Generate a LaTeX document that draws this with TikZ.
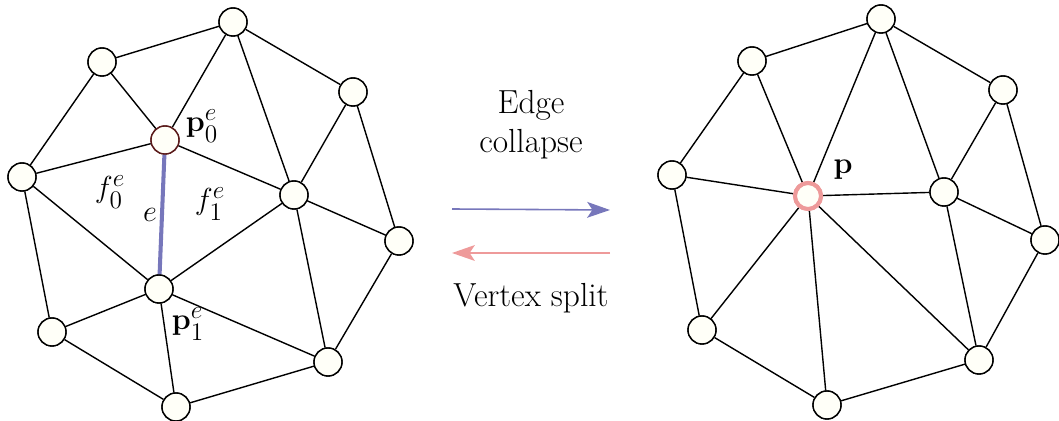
\documentclass[tikz,border=0pt]{standalone}
\usepackage{amsmath}
\usepackage{xcolor}
\usetikzlibrary{arrows.meta}
\definecolor{COLL}{HTML}{7777BB}
\definecolor{SPLT}{HTML}{EE9A9A}
\definecolor{VFILL}{HTML}{FFFFF8}
\definecolor{PZERO}{HTML}{5A1A1A}

\begin{document}
\begin{tikzpicture}[
  x=0.02cm, y=-0.02cm,
  vx/.style={circle, draw=black, line width=0.8pt, fill=VFILL, minimum size=0.56cm, inner sep=0pt},
  edge/.style={black, line width=0.8pt},
  lbl/.style={font=\fontsize{19}{22}\selectfont},
  mlbl/.style={font=\fontsize{19}{22}\selectfont, inner sep=0pt},
]
\useasboundingbox (0,0) rectangle (1059,421);

% ===== LEFT: before collapse =====
\foreach \n/\x/\y in {la/233/22, lb/102/62, lc/353/92, le/22/177, lf/294/195,
                      lg/399/241, li/52/332, lj/328/362, lk/176/407} {
  \node[vx] (\n) at (\x,\y) {};
}
\node[vx, draw=PZERO] (p0) at (165,140) {};
\node[vx] (p1) at (159,289) {};
\foreach \u/\v in {lb/la, la/lc, lb/le, lb/p0, la/p0, la/lf, lc/lf, lc/lg,
                   le/p0, p0/lf, le/p1, le/li, lf/lg, lf/p1, lf/lj, lg/lj,
                   p1/li, p1/lk, p1/lj, li/lk, lk/lj} {
  \draw[edge] (\u) -- (\v);
}
\draw[COLL, line width=2.3pt] (p0) -- (p1);
\foreach \n in {la,lb,lc,le,lf,lg,li,lj,lk,p1} { \node[vx] at (\n) {}; }
\node[vx, draw=PZERO] at (p0) {};

\node[mlbl] (tp0) at (202,126) {$\mathbf{p}_0^e$};
\node[mlbl] (tp1) at (188,324) {$\mathbf{p}_1^e$};
\node[mlbl] (tf0) at (110,192) {$f_0^e$};
\node[mlbl] (tf1) at (210,204) {$f_1^e$};
\node[mlbl] (te)  at (150,215) {$e$};

% ===== MIDDLE: operations =====
\node[lbl, align=center] (tcol) at (531,125) {Edge\\collapse};
\node[lbl] (tspl) at (531,298) {Vertex split};
\coordinate (c0) at (452,209);
\coordinate (c1) at (610,210);
\coordinate (s0) at (610,253);
\coordinate (s1) at (452,253);
\draw[-{Stealth[length=13pt, width=9pt, inset=3pt]}, COLL, line width=0.9pt] (c0) -- (c1);
\draw[-{Stealth[length=13pt, width=9pt, inset=3pt]}, SPLT, line width=0.9pt] (s0) -- (s1);

% ===== RIGHT: after collapse =====
\foreach \n/\x/\y in {ra/881/19, rb/752/61, rc/1003/90, re/672/175, rf/944/192,
                      rg/1045/240, ri/702/330, rj/979/360, rk/827/405} {
  \node[vx] (\n) at (\x,\y) {};
}
\node[vx, draw=SPLT, line width=2.3pt, minimum size=0.52cm] (p) at (808,196) {};
\foreach \u/\v in {rb/ra, ra/rc, rb/re, rb/p, ra/p, ra/rf, rc/rf, rc/rg,
                   re/p, p/rf, rf/rg, re/ri, p/ri, p/rk, p/rj, rf/rj,
                   rg/rj, ri/rk, rk/rj} {
  \draw[edge] (\u) -- (\v);
}
\foreach \n in {ra,rb,rc,re,rf,rg,ri,rj,rk} { \node[vx] at (\n) {}; }
\node[vx, draw=SPLT, line width=2.3pt, minimum size=0.52cm] at (p) {};
\node[mlbl] (tp) at (843,170) {$\mathbf{p}$};

\end{tikzpicture}
\end{document}
